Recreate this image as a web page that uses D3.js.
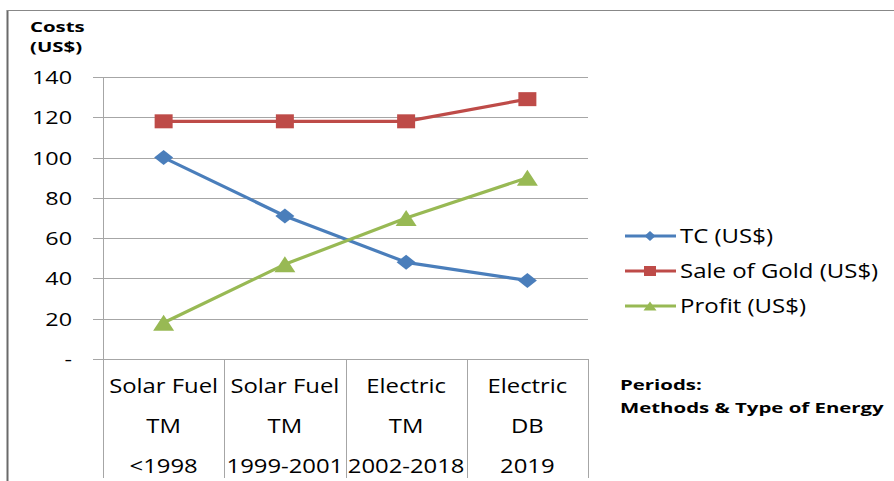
<!DOCTYPE html>
<html><head><meta charset="utf-8">
<script src="https://cdn.jsdelivr.net/npm/d3@7"></script>
<style>html,body{margin:0;padding:0;background:#fff}svg{display:block}text{font-family:"Open Sans",sans-serif;fill:#000}</style>
</head><body><svg id="c" width="894" height="481"></svg>
<script>
const categories = ["c1","c2","c3","c4"];
const catLine1 = ["Solar Fuel","Solar Fuel","Electric","Electric"];
const catLine2 = ["TM","TM","TM","DB"];
const catLine3 = ["<1998","1999-2001","2002-2018","2019"];
const seriesNames = ["TC (US$)","Sale of Gold (US$)","Profit (US$)"];
const tcValues = [100,71,48,39];
const goldValues = [118,118,118,129];
const profitValues = [18,47,70,90];
const yTicks = [0,20,40,60,80,100,120,140];
const colors = ["#4a7ebb","#be4b48","#98b954"];
const shapes = ["diamond","square","triangle"];

const svg = d3.select("#c");
function txt(g, x, y, s, opts={}) {
  const sx = opts.sx || 1.23;
  return g.append("text").attr("transform",`translate(${x},${y}) scale(${sx},1)`)
    .attr("text-anchor", opts.anchor||"start")
    .style("font-size",(opts.size||19)+"px")
    .style("font-weight",opts.bold?"700":"400").text(s);
}
// outer frame
svg.append("line").attr("x1",7.5).attr("x2",7.5).attr("y1",10).attr("y2",481).attr("stroke","#6a6a6a").attr("stroke-width",2);
svg.append("line").attr("x1",7).attr("x2",894).attr("y1",10.5).attr("y2",10.5).attr("stroke","#888").attr("stroke-width",1);

const x = d3.scaleBand().domain(categories).range([103,588]);
const y = d3.scaleLinear().domain([0,140]).range([359,77]);
const cx = c => x(c) + x.bandwidth()/2;

// gridlines
svg.append("g").selectAll("line").data(yTicks).join("line")
  .attr("x1",93).attr("x2",588).attr("y1",d=>Math.round(y(d))+0.5).attr("y2",d=>Math.round(y(d))+0.5)
  .attr("stroke","#a6a6a6").attr("stroke-width",1);
// y axis
svg.append("line").attr("x1",103.5).attr("x2",103.5).attr("y1",77).attr("y2",359).attr("stroke","#a6a6a6");
// category dividers
const divs = categories.map(c=>x(c)).concat([x.range()[1]]);
svg.append("g").selectAll("line").data(divs).join("line")
  .attr("x1",d=>Math.round(d)+0.5).attr("x2",d=>Math.round(d)+0.5).attr("y1",359).attr("y2",478)
  .attr("stroke","#a6a6a6");

// y tick labels
yTicks.forEach(t => txt(svg, 72, y(t)+7, t===0?"-":String(t), {anchor:"end", size:19}));
// y title
txt(svg, 30, 32, "Costs", {bold:true, size:15, sx:1.36});
txt(svg, 30, 52, "(US$)", {bold:true, size:15, sx:1.36});

// category labels
categories.forEach((c,i)=>{
  txt(svg, cx(c), 393, catLine1[i], {anchor:"middle", size:19.4});
  txt(svg, cx(c), 433, catLine2[i], {anchor:"middle", size:19.4});
  txt(svg, cx(c), 473, catLine3[i], {anchor:"middle", size:19.4});
});

function markerPath(shape, w, h) {
  const a=w/2, b=h/2;
  if (shape==="diamond") return `M0,${-b}L${a},0L0,${b}L${-a},0Z`;
  if (shape==="square") return `M${-a},${-b}H${a}V${b}H${-a}Z`;
  return `M0,${-b}L${a},${b}L${-a},${b}Z`;
}
const bigSize = {diamond:[19,15], square:[18,14], triangle:[21,16]};
const smallSize = {diamond:[11,10], square:[12,10], triangle:[13,9]};

const allSeries = [tcValues, goldValues, profitValues];
const line = d3.line().x((d,i)=>cx(categories[i])).y(d=>y(d));
allSeries.forEach((vals,si)=>{
  svg.append("path").attr("d",line(vals)).attr("fill","none").attr("stroke",colors[si]).attr("stroke-width",3.2).attr("stroke-linejoin","round");
});
allSeries.forEach((vals,si)=>{
  const [w,h] = bigSize[shapes[si]];
  svg.append("g").selectAll("path").data(vals).join("path")
    .attr("transform",(d,i)=>`translate(${cx(categories[i])},${y(d)})`)
    .attr("d",markerPath(shapes[si],w,h)).attr("fill",colors[si]);
});

// legend
const legY = [236,271,306];
seriesNames.forEach((n,i)=>{
  svg.append("line").attr("x1",625).attr("x2",676).attr("y1",legY[i]).attr("y2",legY[i]).attr("stroke",colors[i]).attr("stroke-width",3);
  const [w,h]=smallSize[shapes[i]];
  svg.append("path").attr("transform",`translate(650,${legY[i]})`).attr("d",markerPath(shapes[i],w,h)).attr("fill",colors[i]);
  txt(svg, 680, legY[i]+7, n, {size:19.5});
});
txt(svg, 620, 390, "Periods:", {bold:true, size:15, sx:1.36});
txt(svg, 620, 413, "Methods & Type of Energy", {bold:true, size:15, sx:1.36});
</script></body></html>
